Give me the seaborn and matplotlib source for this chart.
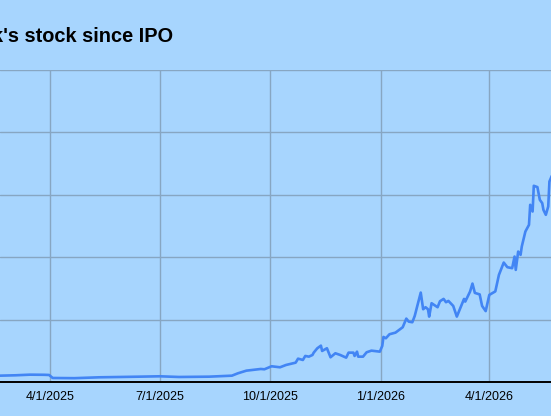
import pandas as pd
import matplotlib.pyplot as plt
import seaborn as sns

# values (price units, gridline every 100)
dates = [
    "2025-02-15", "2025-02-18", "2025-03-03", "2025-03-15", "2025-03-27", "2025-03-31",
    "2025-04-03", "2025-04-21", "2025-05-12", "2025-05-29", "2025-06-14", "2025-07-01",
    "2025-07-17", "2025-08-11", "2025-08-30", "2025-09-04", "2025-09-11", "2025-09-23",
    "2025-09-26", "2025-10-02", "2025-10-09", "2025-10-14", "2025-10-22", "2025-10-24",
    "2025-10-28", "2025-10-30", "2025-11-02", "2025-11-05", "2025-11-06", "2025-11-09",
    "2025-11-12", "2025-11-13", "2025-11-17", "2025-11-20", "2025-11-24", "2025-11-28",
    "2025-12-03", "2025-12-05", "2025-12-09", "2025-12-10", "2025-12-12", "2025-12-13",
    "2025-12-17", "2025-12-20", "2025-12-24", "2025-12-31", "2026-01-02", "2026-01-03",
    "2026-01-05", "2026-01-08", "2026-01-13", "2026-01-19", "2026-01-22", "2026-01-24",
    "2026-01-27", "2026-01-29", "2026-02-03", "2026-02-05", "2026-02-07", "2026-02-09",
    "2026-02-10", "2026-02-12", "2026-02-17", "2026-02-19", "2026-02-22", "2026-02-24",
    "2026-02-26", "2026-03-02", "2026-03-05", "2026-03-11", "2026-03-12", "2026-03-16",
    "2026-03-18", "2026-03-20", "2026-03-24", "2026-03-26", "2026-03-29", "2026-04-01",
    "2026-04-06", "2026-04-09", "2026-04-13", "2026-04-16", "2026-04-20", "2026-04-22",
    "2026-04-23", "2026-04-25", "2026-04-27", "2026-04-28", "2026-05-01", "2026-05-04",
    "2026-05-05", "2026-05-07", "2026-05-08", "2026-05-11", "2026-05-13", "2026-05-15",
    "2026-05-16", "2026-05-18", "2026-05-20", "2026-05-21", "2026-05-23",
]
prices = [
    10.4, 10.6, 11.2, 12.2, 12.0, 11.7,
    6.9, 6.6, 8.0, 8.5, 9.0, 9.6,
    8.5, 9.0, 10.6, 14.4, 18.6, 21.3,
    20.8, 25.6, 24.0, 27.7, 31.4, 37.8,
    35.7, 42.1, 41.0, 43.7, 47.4, 54.4,
    58.6, 50.1, 54.4, 40.0, 46.4, 43.7,
    39.4, 47.4, 47.4, 42.1, 49.0, 41.0,
    41.0, 48.0, 50.6, 49.0, 58.1, 72.5,
    70.4, 76.8, 79.4, 88.0, 101.8, 97.0,
    96.0, 106.1, 143.4, 116.8, 120.0, 116.8,
    105.0, 126.4, 120.0, 129.6, 133.3, 128.0,
    130.1, 122.1, 105.0, 133.3, 129.0, 145.0,
    157.8, 142.9, 140.5, 122.1, 113.8, 139.7,
    145.3, 171.7, 191.4, 184.0, 182.4, 201.0,
    179.7, 209.0, 203.7, 217.0, 241.0, 251.7,
    283.7, 273.0, 314.1, 312.0, 291.7, 286.4,
    275.7, 267.7, 281.0, 321.0, 330.0,
]
tick_dates = ["2025-04-01", "2025-07-01", "2025-10-01", "2026-01-01", "2026-04-01"]
tick_labels = ["4/1/2025", "7/1/2025", "10/1/2025", "1/1/2026", "4/1/2026"]
title = "k's stock since IPO"

bg = "#a7d5fe"
sns.set_style("whitegrid", {"axes.facecolor": bg, "figure.facecolor": bg,
                            "grid.color": "#87a6c2", "axes.edgecolor": "black",
                            "text.color": "black", "xtick.color": "black"})
plt.rcParams["font.family"] = ["Liberation Sans", "DejaVu Sans"]

df = pd.DataFrame({"date": pd.to_datetime(dates), "price": prices})

fig = plt.figure(figsize=(5.51, 4.16), dpi=100)
ax = fig.add_axes([0, 33.7 / 416, 1, (382.3 - 69.5) / 416])

sns.lineplot(data=df, x="date", y="price", ax=ax, color="#4285f4", lw=1.9)

# x range matches the cropped view (about 1.2 px per day)
ref = pd.Timestamp("2025-04-01")
px_per_day = 439.0 / 365
ax.set_xlim(ref - pd.Timedelta(days=50.3 / px_per_day),
            ref + pd.Timedelta(days=(551 - 50.3) / px_per_day))
ax.set_ylim(0, 500)
ax.set_yticks([0, 100, 200, 300, 400, 500])
ax.set_yticklabels([])
ax.set_xticks(pd.to_datetime(tick_dates))
ax.set_xticklabels(tick_labels, fontsize=9.0, color="black")
ax.tick_params(axis="both", length=0)
ax.tick_params(axis="x", pad=6)
ax.grid(True, lw=1.0)
ax.set_xlabel("")
ax.set_ylabel("")
for side in ["left", "right", "top"]:
    ax.spines[side].set_visible(False)
ax.spines["bottom"].set_linewidth(1.4)
ax.spines["bottom"].set_zorder(5)

fig.text(-8.5 / 551, (416 - 42.3) / 416, title, fontsize=14.4, fontweight="bold",
         va="baseline", ha="left", color="black")

fig.savefig("out.png", dpi=100, facecolor=bg)
